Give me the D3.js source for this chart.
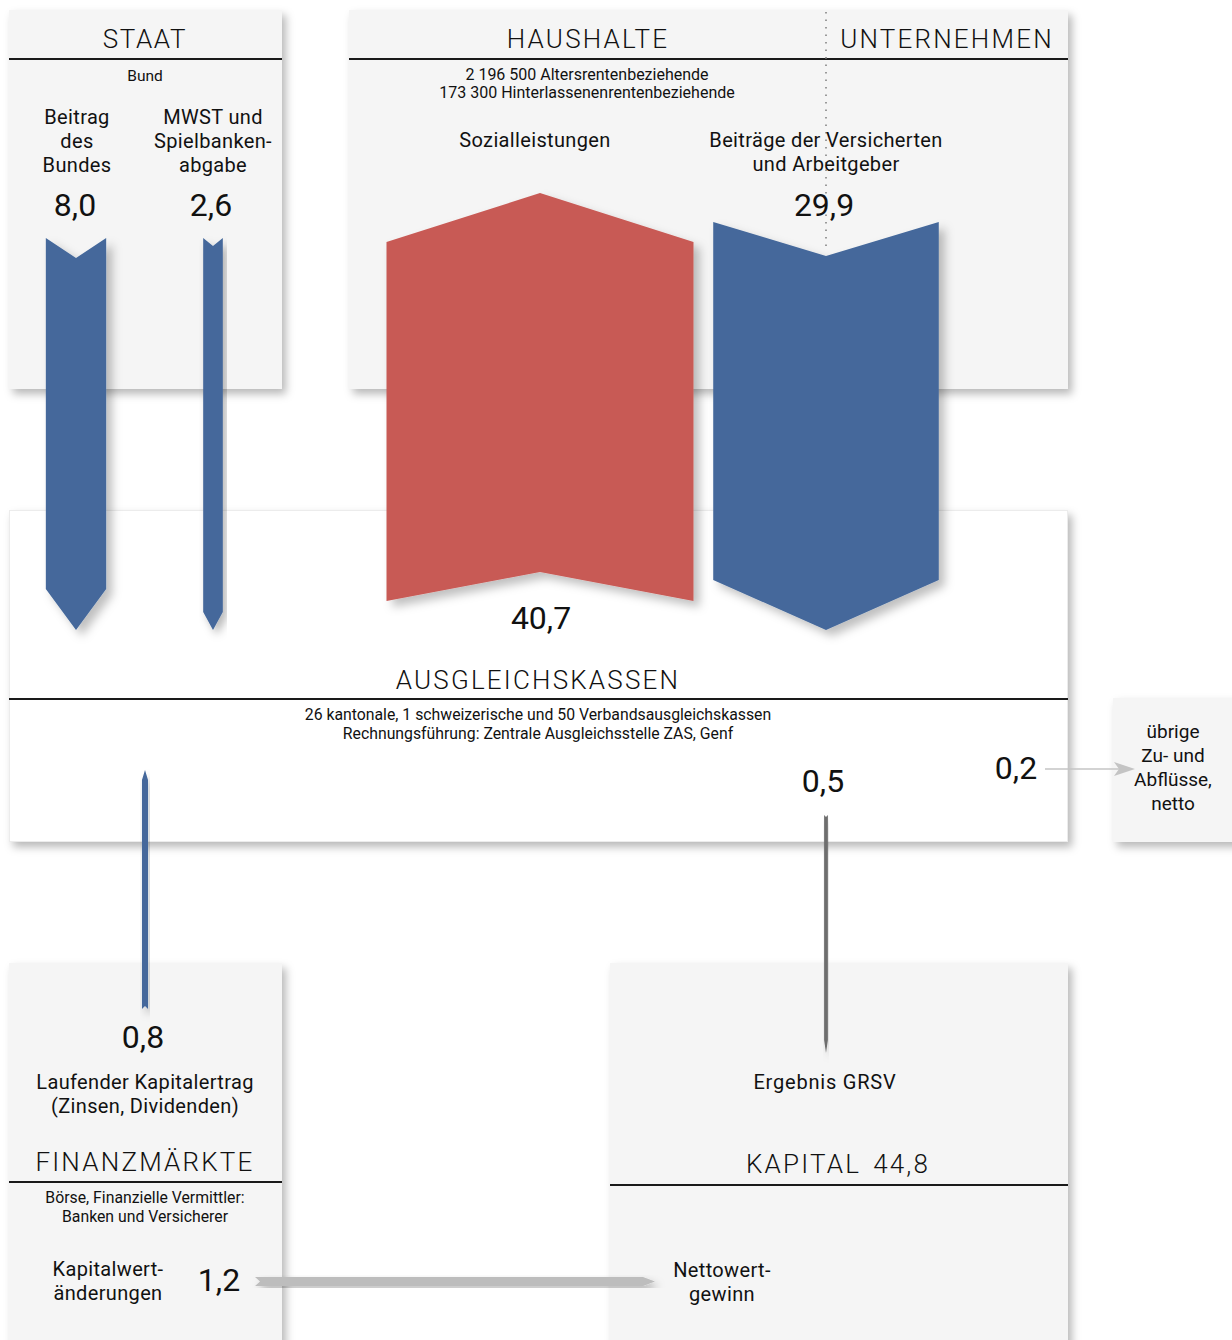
<!DOCTYPE html>
<html><head><meta charset="utf-8">
<script src="https://cdn.jsdelivr.net/npm/d3@7"></script>
<style>
html,body{margin:0;padding:0;background:#fff;}
svg{display:block;}
text{font-family:Roboto,"Liberation Sans",sans-serif;fill:#111;white-space:pre;}
</style></head><body>
<script>
// ---- data ----
const sectorNames = ["STAAT","HAUSHALTE","UNTERNEHMEN","AUSGLEICHSKASSEN","FINANZMÄRKTE","KAPITAL"];
const capitalValue = 44.8;
const flowIds    = ["bund","mwst","sozial","beitraege","kapertrag","grsv","uebrige","kapwert"];
const flowValues = [8.0, 2.6, 40.7, 29.9, 0.8, 0.5, 0.2, 1.2];
const flowLabels = ["8,0","2,6","40,7","29,9","0,8","0,5","0,2","1,2"];
const flowKinds  = ["in","in","out","in","in","out","out","neutral"];
const subTexts = {
  staat:["Bund"],
  haushalte:["2 196 500 Altersrentenbeziehende","173 300 Hinterlassenenrentenbeziehende"],
  ausgleich:["26 kantonale, 1 schweizerische und 50 Verbandsausgleichskassen","Rechnungsführung: Zentrale Ausgleichsstelle ZAS, Genf"],
  finanz:["Börse, Finanzielle Vermittler:","Banken und Versicherer"]
};
const flowNames = {
  bund:["Beitrag","des","Bundes"],
  mwst:["MWST und","Spielbanken-","abgabe"],
  sozial:["Sozialleistungen"],
  beitraege:["Beiträge der Versicherten","und Arbeitgeber"],
  kapertrag:["Laufender Kapitalertrag","(Zinsen, Dividenden)"],
  grsv:["Ergebnis GRSV"],
  uebrige:["übrige","Zu- und","Abflüsse,","netto"],
  kapwert:["Kapitalwert-","änderungen"],
  netto:["Nettowert-","gewinn"]
};

// ---- rendering ----
const W=1232,H=1340;
const svg=d3.select("body").append("svg").attr("width",W).attr("height",H);
const defs=svg.append("defs");
const f=defs.append("filter").attr("id","sh").attr("x","-20%").attr("y","-20%").attr("width","140%").attr("height","140%");
f.append("feDropShadow").attr("dx",4).attr("dy",5).attr("stdDeviation",4).attr("flood-color","#000").attr("flood-opacity",0.28);
const f2=defs.append("filter").attr("id","sh2").attr("x","-50%").attr("y","-20%").attr("width","200%").attr("height","140%");
f2.append("feDropShadow").attr("dx",6).attr("dy",6).attr("stdDeviation",5).attr("flood-color","#000").attr("flood-opacity",0.25);

const wScale=d3.scaleLinear().domain([0,40.7]).range([0,307]);
const colorOf=d3.scaleOrdinal().domain(["in","out","neutral"]).range(["#44689b","#c85a55","#bdbdbd"]);

// boxes
const boxes=[
 {x:9,y:10,w:273,h:379,fill:"#f5f5f5"},
 {x:349,y:10,w:719,h:379,fill:"#f5f5f5"},
 {x:9,y:510,w:1059,h:332,fill:"#ffffff"},
 {x:1113,y:698,w:130,h:144,fill:"#f5f5f5"},
 {x:9,y:963,w:273,h:390,fill:"#f5f5f5"},
 {x:610,y:963,w:458,h:390,fill:"#f5f5f5"}
];
svg.append("g").selectAll("rect").data(boxes).join("rect")
 .attr("x",d=>d.x).attr("y",d=>d.y).attr("width",d=>d.w).attr("height",d=>d.h)
 .attr("fill",d=>d.fill).attr("filter","url(#sh)");
svg.append("rect").attr("x",9.5).attr("y",510.5).attr("width",1058).attr("height",331).attr("fill","none").attr("stroke","#ececec");

// header rules
const rules=[[9,282,59],[349,1068,59],[9,1068,699],[9,282,1182],[610,1068,1185]];
svg.append("g").selectAll("line").data(rules).join("line")
 .attr("x1",d=>d[0]).attr("x2",d=>d[1]).attr("y1",d=>d[2]).attr("y2",d=>d[2])
 .attr("stroke","#1a1a1a").attr("stroke-width",2);
// dotted divider
svg.append("line").attr("x1",826).attr("x2",826).attr("y1",12).attr("y2",252)
 .attr("stroke","#9a9a9a").attr("stroke-width",2).attr("stroke-dasharray","1.5,6");

// arrow geometry (layout, not data)
const geom={
 bund:{dir:"v",c:76,a:238,b:589,s:20,e:41},
 mwst:{dir:"v",c:213,a:238,b:612,s:8,e:18},
 sozial:{dir:"v",c:540,a:242,b:601,s:-49,e:-29},
 beitraege:{dir:"v",c:826,a:222,b:580,s:34,e:50},
 kapertrag:{dir:"v",c:145,a:780,b:1009,s:-10,e:-3},
 grsv:{dir:"v",c:826,a:815,b:1040,s:2,e:13},
 kapwert:{dir:"h",c:1281.5,a:255,b:643,s:5,e:12}
};
function arrowPath(g,w){
 const h=w/2;
 let pts=[[-h,g.a],[0,g.a+g.s],[h,g.a],[h,g.b],[0,g.b+g.e],[-h,g.b]];
 pts=pts.map(p=>g.dir==="v"?[g.c+p[0],p[1]]:[p[1],g.c+p[0]]);
 return d3.line()(pts)+"Z";
}
const flows=flowIds.map((id,i)=>({id,value:flowValues[i],label:flowLabels[i],kind:flowKinds[i]}));
const byId=Object.fromEntries(flows.map(d=>[d.id,d]));
const grsvColor="#6e6e6e";
svg.append("g").selectAll("path").data(flows.filter(d=>geom[d.id])).join("path")
 .attr("d",d=>arrowPath(geom[d.id],wScale(d.value)))
 .attr("fill",d=>d.id==="grsv"?grsvColor:colorOf(d.kind))
 .attr("filter",d=>d.value>5?"url(#sh2)":"url(#sh)");

// thin arrow 0,2
const u=byId.uebrige;
svg.append("line").attr("x1",1045).attr("x2",1120).attr("y1",769).attr("y2",769)
 .attr("stroke","#c4c4c4").attr("stroke-width",Math.max(1.5,wScale(u.value)));
svg.append("path").attr("d",d3.line()([[1114,762],[1135,769],[1114,776],[1119,769]])+"Z").attr("fill","#c4c4c4");

// text helper
function txt(lines,x,y,opt={}){
 const t=svg.append("text").attr("x",x).attr("y",y).attr("text-anchor",opt.anchor||"middle")
  .style("font-size",(opt.size||18)+"px").style("font-weight",opt.weight||400)
  .style("letter-spacing",(opt.ls||0)+"px");
 if(opt.fill) t.style("fill",opt.fill);
 lines.forEach((l,i)=>t.append("tspan").attr("x",x).attr("y",y+i*(opt.lh||24)).text(l));
 return t;
}
const HDR={size:26,weight:300,ls:2.2};
txt([sectorNames[0]],145,48,{size:26,weight:300,ls:1.6});
txt([sectorNames[1]],588,48,HDR);
txt([sectorNames[2]],947,48,HDR);
txt([sectorNames[3]],538,689,HDR);
txt([sectorNames[4]],145,1171,HDR);
// KAPITAL + value
const kt=svg.append("text").attr("x",746).attr("y",1173).attr("text-anchor","start")
 .style("font-size","26px").style("font-weight",300).style("letter-spacing","2.2px");
kt.append("tspan").text(sectorNames[5]);
kt.append("tspan").attr("dx",12).text(d3.format(".1f")(capitalValue).replace(".",","));

txt(subTexts.staat,145,81,{size:15.5});
txt(subTexts.haushalte,587,80,{size:16,lh:18});
txt(subTexts.ausgleich,538,720,{size:15.8,lh:19});
txt(subTexts.finanz,145,1203,{size:15.8,lh:19});

const LB={size:20,lh:24,ls:0.35};
txt(flowNames.bund,77,124,LB);
txt(flowNames.mwst,213,124,LB);
txt(flowNames.sozial,535,147,LB);
txt(flowNames.beitraege,826,147,LB);
txt(flowNames.kapertrag,145,1089,LB);
txt(flowNames.grsv,825,1089,{size:20,lh:24,ls:0.8});
txt(flowNames.uebrige,1173,738,{size:19,lh:24});
txt(flowNames.kapwert,108,1276,LB);
txt(flowNames.netto,722,1277,LB);

const NUM={size:32,lh:0};
const numPos={bund:[75,216],mwst:[211,216],sozial:[541,629],beitraege:[824,216],kapertrag:[143,1048],grsv:[823,792],uebrige:[1016,779],kapwert:[219,1291]};
flows.forEach(d=>txt([d.label],numPos[d.id][0],numPos[d.id][1],NUM));
</script>
</body></html>
